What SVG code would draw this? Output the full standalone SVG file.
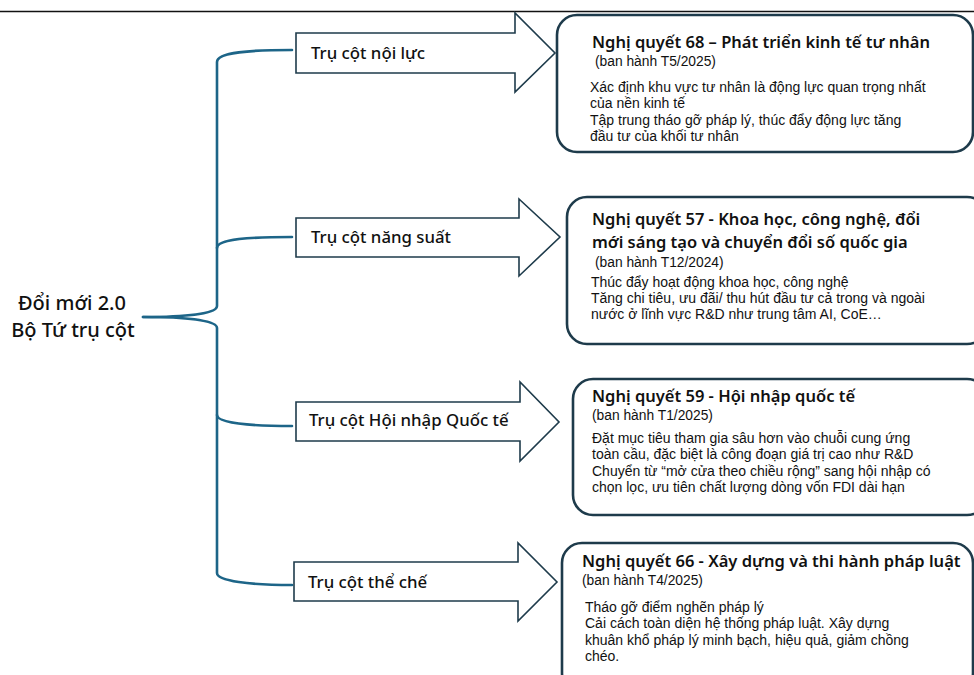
<svg xmlns="http://www.w3.org/2000/svg" width="974" height="675" viewBox="0 0 974 675">
<style>
  .brace{fill:none;stroke:#1d6588;stroke-width:2.6;stroke-linecap:round}
  .arrow{fill:#fff;stroke:#1e3b4b;stroke-width:1.6;stroke-linejoin:miter}
  .box{fill:#fff;stroke:#1e3b4b;stroke-width:2.6}
  text{font-family:"Noto Sans","Open Sans","DejaVu Sans",sans-serif;fill:#111}
  .lbl{font-size:16.8px;font-weight:500}
  .h{font-size:16.5px;font-weight:600}
  .sub{font-family:"Liberation Sans",Arial,sans-serif;font-size:13.8px}
  .b{font-family:"Liberation Sans",Arial,sans-serif;font-size:14px}
  .root{font-size:20px;font-weight:500}
</style>
<rect width="974" height="675" fill="#fff"/>
<line x1="0" y1="11.5" x2="974" y2="11.5" stroke="#111" stroke-width="1.5"/>

<g id="connectors">
  <path class="brace" d="M292,50 C250,50 217,52 217,62 L217,306 C217,314 185,317 143,317"/>
  <path class="brace" d="M292,237 C250,237 217,239 217,248"/>
  <path class="brace" d="M143,317 C185,317 217,320 217,328 L217,573 C217,581 250,585 292,585"/>
  <path class="brace" d="M217,415 C217,423 250,426 292,426"/>
</g>

<g id="root">
  <text class="root" x="72" y="310" text-anchor="middle">Đổi mới 2.0</text>
  <text class="root" x="73" y="337" text-anchor="middle">Bộ Tứ trụ cột</text>
</g>

<g id="pillar1">
  <path class="arrow" d="M296,33 L515,33 L515,13 L555,53 L515,92 L515,73 L296,73 Z"/>
  <text class="lbl" x="311" y="59">Trụ cột nội lực</text>
</g>
<g id="pillar2">
  <path class="arrow" d="M296,218 L519,218 L519,199 L560,237 L519,276 L519,257 L296,257 Z"/>
  <text class="lbl" x="311" y="243">Trụ cột năng suất</text>
</g>
<g id="pillar3">
  <path class="arrow" d="M296,402 L520,402 L520,382 L559,422 L520,461 L520,441 L296,441 Z"/>
  <text class="lbl" x="309" y="426">Trụ cột Hội nhập Quốc tế</text>
</g>
<g id="pillar4">
  <path class="arrow" d="M294,562 L518,562 L518,543 L557,582 L518,621 L518,601 L294,601 Z"/>
  <text class="lbl" x="308" y="588">Trụ cột thể chế</text>
</g>

<g id="nq68">
  <rect class="box" x="557" y="15" width="416" height="137" rx="20"/>
  <text class="h" x="592" y="48">Nghị quyết 68 – Phát triển kinh tế tư nhân</text>
  <text class="sub" x="595" y="66">(ban hành T5/2025)</text>
  <text class="b" x="590" y="92">Xác định khu vực tư nhân là động lực quan trọng nhất</text>
  <text class="b" x="590" y="108">của nền kinh tế</text>
  <text class="b" x="590" y="125">Tập trung tháo gỡ pháp lý, thúc đẩy động lực tăng</text>
  <text class="b" x="590" y="141">đầu tư của khối tư nhân</text>
</g>

<g id="nq57">
  <rect class="box" x="567" y="197" width="420" height="147" rx="20"/>
  <text class="h" x="592" y="225">Nghị quyết 57 - Khoa học, công nghệ, đổi</text>
  <text class="h" x="592" y="248">mới sáng tạo và chuyển đổi số quốc gia</text>
  <text class="sub" x="595" y="267">(ban hành T12/2024)</text>
  <text class="b" x="591" y="287">Thúc đẩy hoạt động khoa học, công nghệ</text>
  <text class="b" x="591" y="303">Tăng chi tiêu, ưu đãi/ thu hút đầu tư cả trong và ngoài</text>
  <text class="b" x="591" y="319">nước ở lĩnh vực R&amp;D như trung tâm AI, CoE…</text>
</g>

<g id="nq59">
  <rect class="box" x="573" y="379" width="414" height="136" rx="20"/>
  <text class="h" x="592" y="402">Nghị quyết 59 - Hội nhập quốc tế</text>
  <text class="sub" x="592" y="420">(ban hành T1/2025)</text>
  <text class="b" x="592" y="443">Đặt mục tiêu tham gia sâu hơn vào chuỗi cung ứng</text>
  <text class="b" x="592" y="459">toàn cầu, đặc biệt là công đoạn giá trị cao như R&amp;D</text>
  <text class="b" x="592" y="476">Chuyển từ “mở cửa theo chiều rộng” sang hội nhập có</text>
  <text class="b" x="592" y="492">chọn lọc, ưu tiên chất lượng dòng vốn FDI dài hạn</text>
</g>

<g id="nq66">
  <rect class="box" x="562" y="543" width="411" height="150" rx="20"/>
  <text class="h" x="582" y="567">Nghị quyết 66 - Xây dựng và thi hành pháp luật</text>
  <text class="sub" x="582" y="585">(ban hành T4/2025)</text>
  <text class="b" x="585" y="612">Tháo gỡ điểm nghẽn pháp lý</text>
  <text class="b" x="585" y="628">Cải cách toàn diện hệ thống pháp luật. Xây dựng</text>
  <text class="b" x="585" y="645">khuân khổ pháp lý minh bạch, hiệu quả, giảm chồng</text>
  <text class="b" x="585" y="661">chéo.</text>
</g>
</svg>
